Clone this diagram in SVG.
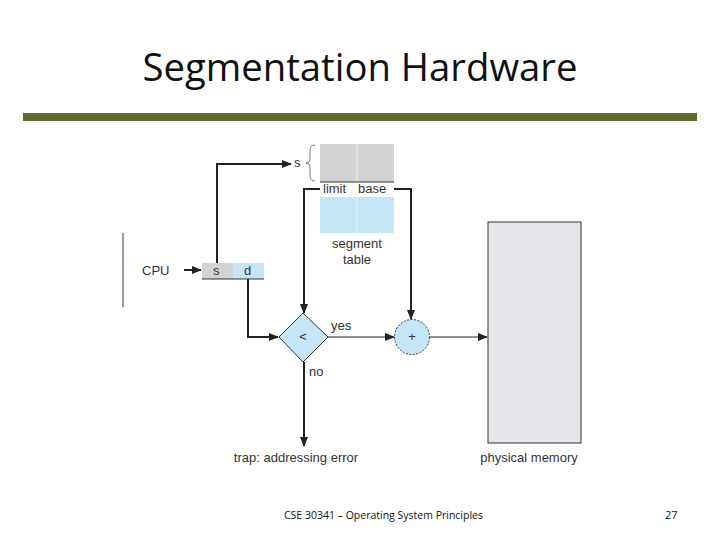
<svg xmlns="http://www.w3.org/2000/svg" width="720" height="540" viewBox="0 0 720 540">
<defs>
<marker id="ah" markerWidth="10" markerHeight="8" refX="9" refY="4" orient="auto" markerUnits="userSpaceOnUse">
<path d="M0,0 L10,4 L0,8 Z" fill="#222"/>
</marker>
<style>
.t{font-family:"Liberation Sans",Arial,sans-serif;font-size:13px;fill:#333}
.c{fill:none;stroke:#222;stroke-width:2}
.thin{fill:none;stroke:#222;stroke-width:1.2}
</style>
</defs>
<rect width="720" height="540" fill="#fff"/>
<text x="360" y="81" text-anchor="middle" font-family="Open Sans, Liberation Sans, sans-serif" font-size="38" fill="#111" textLength="435" lengthAdjust="spacingAndGlyphs">Segmentation Hardware</text>
<rect x="23" y="113" width="674" height="8" fill="#5f6b2c"/>

<g id="cpu">
<line x1="123" y1="233" x2="123" y2="307" stroke="#333" stroke-width="1"/>
<text class="t" x="142" y="275">CPU</text>
</g>
<g id="address">
<rect x="202" y="263" width="31" height="16" fill="#d3d3d6"/>
<rect x="233" y="263" width="31" height="16" fill="#c5e6f7"/>
<line x1="202" y1="279" x2="264" y2="279" stroke="#333" stroke-width="1"/>
<text class="t" x="213" y="275">s</text>
<text class="t" x="244" y="275">d</text>
</g>
<g id="segment-table">
<rect x="320" y="144" width="74" height="38" fill="#d3d3d6"/>
<rect x="320" y="197" width="74" height="36" fill="#c5e6f7"/>
<line x1="357" y1="144" x2="357" y2="182" stroke="#eee" stroke-width="1"/>
<line x1="357" y1="197" x2="357" y2="233" stroke="#e6f4fb" stroke-width="1"/>
<line x1="320" y1="182" x2="394" y2="182" stroke="#333" stroke-width="1"/>
<text class="t" x="323" y="193">limit</text>
<text class="t" x="358" y="193">base</text>
<text class="t" x="357" y="248" text-anchor="middle">segment</text>
<text class="t" x="357" y="264" text-anchor="middle">table</text>
<path d="M315,145 Q310,145 310,150 L310,158 Q310,163 306,163 Q310,163 310,168 L310,176 Q310,181 315,181" fill="none" stroke="#555" stroke-width="0.8"/>
<text class="t" x="294" y="167">s</text>
</g>
<g id="compare">
<path d="M303,313 L328,337 L303,362 L279,337 Z" fill="#c5e6f7" stroke="#333" stroke-width="1"/>
<text class="t" x="303" y="341" text-anchor="middle">&lt;</text>
<text class="t" x="331" y="330">yes</text>
<text class="t" x="309" y="376">no</text>
</g>
<g id="adder">
<circle cx="412" cy="337" r="17.5" fill="#c5e6f7" stroke="#333" stroke-width="1" stroke-dasharray="2,1.5"/>
<text class="t" x="412" y="341" text-anchor="middle">+</text>
</g>
<g id="memory">
<rect x="488" y="222" width="93" height="221" fill="#e4e6ea" stroke="#333" stroke-width="1"/>
<text class="t" x="529" y="462" text-anchor="middle">physical memory</text>
</g>
<g id="trap">
<text class="t" x="296" y="462" text-anchor="middle">trap: addressing error</text>
</g>
<g id="connectors">
<line class="c" x1="184" y1="270" x2="201" y2="270" marker-end="url(#ah)"/>
<polyline class="c" points="217,263 217,164 291,164" marker-end="url(#ah)"/>
<polyline class="c" points="320,189 304,189 304,313" marker-end="url(#ah)"/>
<polyline class="c" points="394,189 411,189 411,319" marker-end="url(#ah)"/>
<polyline class="c" points="248,279 248,337 278,337" marker-end="url(#ah)"/>
<line class="thin" x1="328" y1="337" x2="394" y2="337" marker-end="url(#ah)"/>
<line class="c" x1="304" y1="362" x2="304" y2="446" marker-end="url(#ah)"/>
<line class="thin" x1="430" y1="337" x2="487" y2="337" marker-end="url(#ah)"/>
</g>
<text x="284" y="519" font-family="Open Sans, Liberation Sans, sans-serif" font-size="11" fill="#111" textLength="199" lengthAdjust="spacingAndGlyphs">CSE 30341 – Operating System Principles</text>
<text x="665" y="519" font-family="Open Sans, Liberation Sans, sans-serif" font-size="11" fill="#111">27</text>
</svg>
